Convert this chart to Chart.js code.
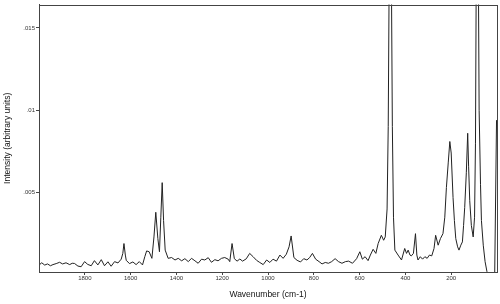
<!DOCTYPE html>
<html>
<head>
<meta charset="utf-8">
<script src="https://cdn.jsdelivr.net/npm/chart.js@4.4.1/dist/chart.umd.min.js"></script>
<style>
  html, body { margin: 0; padding: 0; background: #fff; }
  #wrap { width: 500px; height: 304px; }
</style>
</head>
<body>
<div id="wrap"><canvas id="spectrum"></canvas></div>
<script>
// Raman spectrum (wavenumber in cm-1, intensity in arbitrary units)
const wavenumbers = [
  2000, 1997, 1988, 1975, 1963, 1950, 1939, 1925, 1910, 1897, 1882, 1866, 1855, 1845, 1830,
  1816, 1801, 1787, 1772, 1758, 1743, 1728, 1714, 1699, 1685, 1670, 1655, 1641, 1634, 1629,
  1623, 1619, 1605, 1590, 1576, 1562, 1548, 1538, 1530, 1519, 1507, 1498, 1490, 1481, 1474,
  1468, 1462, 1456, 1449, 1436, 1421, 1406, 1392, 1377, 1363, 1348, 1334, 1319, 1305, 1290,
  1276, 1261, 1247, 1232, 1218, 1203, 1189, 1174, 1167, 1157, 1147, 1135, 1123, 1111, 1095,
  1080, 1065, 1050, 1036, 1021, 1006, 992, 978, 963, 948, 934, 920, 908, 899, 887,
  873, 858, 844, 830, 818, 806, 792, 777, 764, 750, 736, 722, 707, 692, 677,
  662, 648, 631, 613, 599, 588, 576, 563, 553, 541, 529, 519, 505, 495, 488,
  480, 475, 470, 466, 462, 457, 452, 446, 432, 417, 403, 395, 388, 380, 374,
  365, 356, 350, 345, 335, 325, 315, 305, 295, 285, 275, 268, 257, 247, 236,
  228, 221, 213, 206, 200, 192, 186, 180, 172, 166, 158, 151, 146, 141, 134,
  128, 124, 119, 112, 104, 98, 94, 90, 86, 82, 78, 72, 68, 60, 52,
  44, 36, 28, 20, 10, 2
];
const intensity = [
  0.00065, 0.00063, 0.00073, 0.00059, 0.00066, 0.00055, 0.00062, 0.00068, 0.00076, 0.00066, 0.00073, 0.00062, 0.00070, 0.00069, 0.00053,
  0.00049, 0.00080, 0.00063, 0.00055, 0.00086, 0.00060, 0.00092, 0.00055, 0.00079, 0.00052, 0.00080, 0.00072, 0.00095, 0.0013, 0.0019,
  0.0012, 0.00088, 0.00068, 0.00078, 0.00062, 0.00080, 0.00060, 0.0011, 0.00145, 0.0014, 0.0010, 0.0023, 0.0038, 0.0022, 0.0014,
  0.0035, 0.0056, 0.0033, 0.0015, 0.0010, 0.00105, 0.0009, 0.0010, 0.00085, 0.00098, 0.0008, 0.0010, 0.00085, 0.0007, 0.00095,
  0.0009, 0.00104, 0.00076, 0.00092, 0.00085, 0.0010, 0.00105, 0.00095, 0.0008, 0.0019, 0.00098, 0.00083, 0.00096, 0.00083, 0.00097,
  0.0013, 0.0011, 0.00088, 0.00075, 0.00062, 0.0009, 0.00075, 0.00095, 0.00083, 0.0012, 0.0010, 0.00125, 0.0017, 0.00236, 0.00105,
  0.00088, 0.00078, 0.00098, 0.0009, 0.00105, 0.0013, 0.00095, 0.0008, 0.00066, 0.00075, 0.0007, 0.0008, 0.00098, 0.0008, 0.0007,
  0.0008, 0.00083, 0.0007, 0.00098, 0.0014, 0.00095, 0.0011, 0.00086, 0.0012, 0.00155, 0.0013, 0.0019, 0.0024, 0.0021, 0.0023,
  0.004, 0.009, 0.02, 0.03, 0.02, 0.009, 0.0035, 0.0015, 0.0012, 0.0009, 0.0016, 0.0013, 0.0015, 0.0012, 0.00115,
  0.0013, 0.0025, 0.0012, 0.0009, 0.0011, 0.00095, 0.0011, 0.0010, 0.0012, 0.00115, 0.0016, 0.0024, 0.0018, 0.0022, 0.0025,
  0.0035, 0.0053, 0.0068, 0.0081, 0.0074, 0.0047, 0.0033, 0.0022, 0.0017, 0.0015, 0.0018, 0.0020, 0.0030, 0.0041, 0.0062,
  0.0086, 0.0066, 0.0045, 0.0030, 0.0023, 0.0035, 0.0080, 0.02, 0.03, 0.02, 0.010, 0.0055, 0.0033, 0.0018, 0.0008,
  0.0002, 0.00005, 0.00005, 0.00005, 0.00008, 0.0094
];

const xTicks = [1800, 1600, 1400, 1200, 1000, 800, 600, 400, 200];
const yTicks = [0.005, 0.01, 0.015];

const xTitle = 'Wavenumber (cm-1)';
const yTitle = 'Intensity (arbitrary units)';

const points = wavenumbers.map((w, i) => ({ x: w, y: intensity[i] }));

// box around the plot area
const frame = {
  id: 'frame',
  afterDraw(chart) {
    const { ctx, chartArea: a } = chart;
    ctx.save();
    ctx.strokeStyle = '#444';
    ctx.lineWidth = 1;
    ctx.strokeRect(Math.round(a.left) + 0.5, Math.round(a.top) + 0.5,
      Math.round(a.right - a.left), Math.round(a.bottom - a.top));
    ctx.restore();
  }
};

const tickFont = { family: '"Liberation Sans", Arial, sans-serif', size: 6 };
const titleFont = { family: '"Liberation Sans", Arial, sans-serif', size: 8.5 };

new Chart(document.getElementById('spectrum'), {
  type: 'line',
  data: {
    datasets: [{
      data: points,
      borderColor: '#222',
      borderWidth: 1,
      pointRadius: 0,
      tension: 0,
      fill: false
    }]
  },
  options: {
    responsive: true,
    maintainAspectRatio: false,
    animation: false,
    layout: { padding: { top: 3, right: 3, left: 0, bottom: 0 } },
    plugins: {
      legend: { display: false },
      tooltip: { enabled: false }
    },
    scales: {
      x: {
        type: 'linear',
        reverse: true,
        min: 0,
        max: 2000,
        afterBuildTicks: s => { s.ticks = xTicks.map(v => ({ value: v })); },
        afterFit: s => { s.height = 32; },
        grid: { drawOnChartArea: false, tickLength: 3, color: '#444' },
        border: { color: '#444' },
        ticks: { font: tickFont, color: '#333', padding: 0, maxRotation: 0, autoSkip: false,
          callback: v => String(v) },
        title: { display: true, text: xTitle, font: titleFont, color: '#111', padding: { top: 0, bottom: 4 } }
      },
      y: {
        min: 0.00017,
        max: 0.01642,
        afterBuildTicks: s => { s.ticks = yTicks.map(v => ({ value: v })); },
        afterFit: s => { s.width = 39; },
        grid: { drawOnChartArea: false, tickLength: 3, color: '#444' },
        border: { color: '#444' },
        ticks: { font: tickFont, color: '#333', padding: 1,
          callback: v => String(v).replace(/^0/, '') },
        title: { display: true, text: yTitle, font: titleFont, color: '#111', padding: { top: 2.5, bottom: 0 } }
      }
    }
  },
  plugins: [frame]
});
</script>
</body>
</html>
